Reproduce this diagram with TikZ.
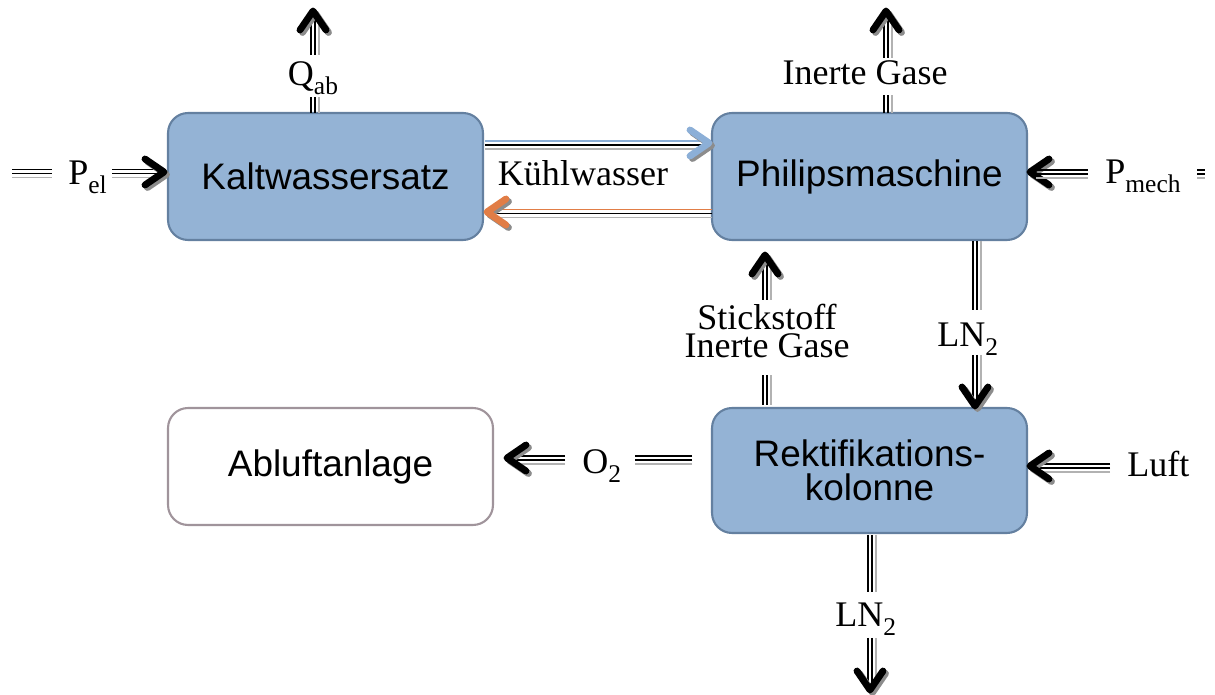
\documentclass[tikz,border=0pt]{standalone}
\usepackage{fontspec}
\setmainfont{Liberation Serif}
\newfontfamily\boxfont{Liberation Sans}
\usetikzlibrary{calc}
\definecolor{boxfill}{RGB}{148,179,213}
\definecolor{boxdraw}{RGB}{100,128,160}
\definecolor{ablu}{RGB}{160,148,155}
\definecolor{kwblue}{RGB}{140,175,215}
\definecolor{kworange}{RGB}{225,125,70}
\newcommand\sbx[1]{\raisebox{-4.8pt}{\fontsize{14.5}{14.5}\selectfont #1}}
\tikzset{
  blk/.style={rounded corners=0.4cm, draw=boxdraw, line width=1.2pt, fill=boxfill,
    minimum width=6.3cm, minimum height=2.54cm, align=center,
    font=\boxfont\fontsize{21}{19}\selectfont},
  lbl/.style={inner sep=0pt, font=\fontsize{20.5}{16}\selectfont},
  chevp/.pic={\path[pic actions, line width=3.9pt, line cap=round, line join=round]
    (-19,-13) -- (0,0) -- (-19,13);},
}
\newcommand\hdl[3][black]{%
  \draw[gray!60, line width=0.9pt, transform canvas={yshift=-3.4pt}] #2 -- #3;
  \draw[black, line width=0.9pt, transform canvas={yshift=-1.15pt}] #2 -- #3;
  \draw[#1, line width=0.9pt, transform canvas={yshift=1.15pt}] #2 -- #3;}
\newcommand\vdl[2]{%
  \draw[gray!60, line width=0.9pt, transform canvas={xshift=3.4pt}] #1 -- #2;
  \draw[black, line width=0.9pt, transform canvas={xshift=1.15pt}] #1 -- #2;
  \draw[black, line width=0.9pt, transform canvas={xshift=-1.15pt}] #1 -- #2;}
\newcommand\chev[3][black]{%
  \pic[rotate=#3, draw=black!45] at ($#2+(2.5,2.5)$) {chevp};
  \pic[rotate=#3, draw=#1] at #2 {chevp};}
\begin{document}
\begin{tikzpicture}[x=0.02cm, y=-0.02cm]
\useasboundingbox (0,0) rectangle (1215,695);
% boxes
\node[blk] (kalt) at (325.5,176.5) {Kaltwassersatz};
\node[blk] (phil) at (869.5,176.5) {Philipsmaschine};
\node[blk, minimum height=2.5cm] (rekt) at (869.5,470.5) {Rektifikations-\\kolonne};
\node[blk, fill=white, draw=ablu, minimum width=6.5cm, minimum height=2.34cm] (abl) at (330.5,466.5) {Abluftanlage};
% labels
\node[lbl, anchor=base west] (pel) at (68,185) {P\sbx{el}};
\node[lbl, anchor=base west] (pmech) at (1105,184) {P\sbx{mech}};
\node[lbl, anchor=base] (qab) at (313,86) {Q\sbx{ab}};
\node[lbl, anchor=base] (ig) at (865,85) {Inerte Gase};
\node[lbl, anchor=base] (kw) at (583,186) {Kühlwasser};
\node[lbl, align=center, anchor=north] (st) at (767,304) {Stickstoff\\Inerte Gase};
\node[lbl, anchor=base west] (ln2a) at (937,347) {LN\sbx{2}};
\node[lbl, anchor=base west] (ln2b) at (835,627) {LN\sbx{2}};
\node[lbl, anchor=base west] (o2) at (582,474) {O\sbx{2}};
\node[lbl, anchor=base west] (luft) at (1127,477) {Luft};
% P_el
\hdl{(12,171.5)}{(52,171.5)}
\hdl{(112,171.5)}{(158,171.5)}
\chev{(164,172)}{0}
% P_mech
\chev{(1030,172)}{180}
\hdl{(1036,172)}{(1088,172)}
\hdl{(1197,172)}{(1205,172)}
% Q_ab
\vdl{(313,113)}{(313,97)}
\vdl{(313,55)}{(313,16)}
\chev{(313,11)}{90}
% Inerte Gase top
\vdl{(886,113)}{(886,95)}
\vdl{(886,58)}{(886,16)}
\chev{(886,11)}{90}
% Kuehlwasser
\hdl[kwblue]{(485,143)}{(704,143)}
\chev[kwblue]{(709,143)}{0}
\hdl[kworange]{(712,211.5)}{(492,211.5)}
\chev[kworange]{(487,212)}{180}
% Stickstoff
\vdl{(765,405)}{(765,375)}
\vdl{(765,300)}{(765,260)}
\chev{(765,255)}{90}
% LN2 middle
\vdl{(975,241)}{(975,310)}
\vdl{(975,355)}{(975,401)}
\chev{(975,406)}{-90}
% O2
\hdl{(692,458)}{(635,458)}
\hdl{(565,458)}{(512,458)}
\chev{(507,458)}{180}
% Luft
\hdl{(1110,466)}{(1035,466)}
\chev{(1030,466)}{180}
% LN2 bottom
\vdl{(870,535)}{(870,592)}
\vdl{(870,638)}{(870,685)}
\chev{(870,690)}{-90}
\end{tikzpicture}
\end{document}
